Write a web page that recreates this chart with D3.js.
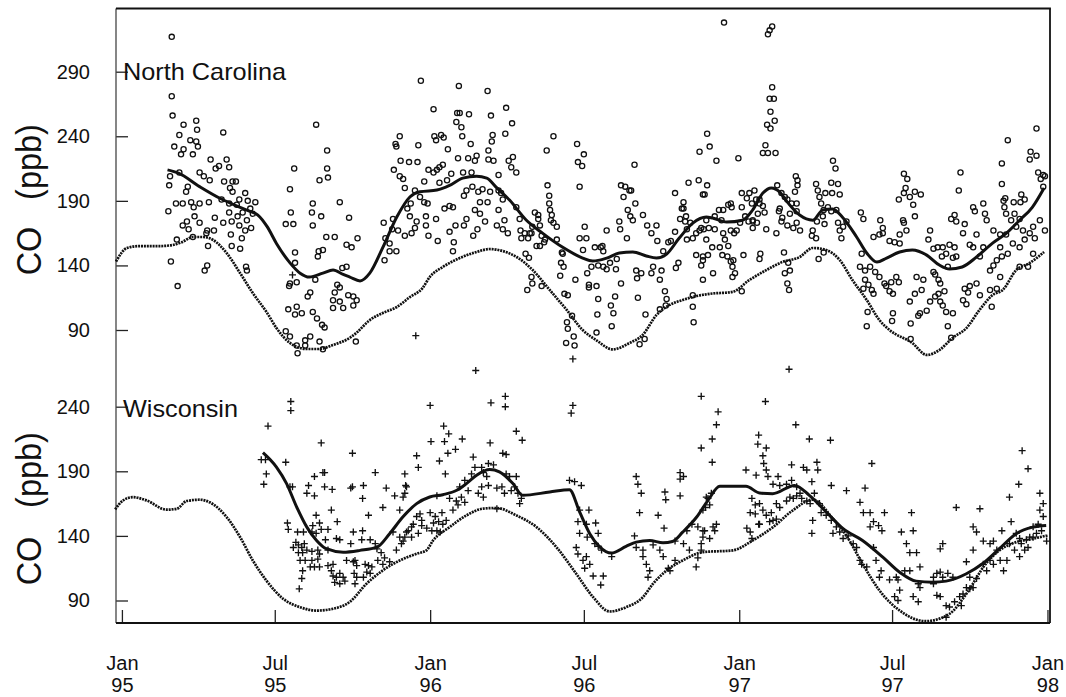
<!DOCTYPE html>
<html><head><meta charset="utf-8">
<script src="https://cdn.jsdelivr.net/npm/d3@7"></script>
<style>
body{margin:0;background:#fff;}
svg{display:block;font-family:"Liberation Sans",Arial,Helvetica,sans-serif;}
</style></head><body>
<svg id="chart" width="1066" height="697"></svg>
<script>
// Time is counted in days since 1 Jan 1995; concentrations are CO in ppb.
const ncTicks = [90, 140, 190, 240, 290];
const wiTicks = [90, 140, 190, 240];
const panelNames = ["North Carolina", "Wisconsin"];

// North Carolina daily observations [day, ppb]
const ncObs = [
[59,317],[59,271],[60,256],[73,249],[88,252],[68,241],[89,245],[81,237],[88,236],[90,232],[62,232],[73,230],[70,226],[84,226],[120,243],[105,222],[124,222],[115,217],[111,215],[127,216],[57,209],[56,202],[68,212],[92,212],[97,209],[104,206],[78,201],[76,197],[121,205],[131,205],[135,205],[128,200],[131,197],[146,196],[139,191],[55,182],[64,188],[72,188],[82,189],[92,188],[85,185],[103,189],[118,191],[127,188],[136,187],[149,190],[158,189],[152,184],[155,180],[143,181],[127,181],[137,178],[148,175],[153,169],[139,171],[146,167],[130,174],[120,173],[110,177],[109,167],[101,167],[92,173],[86,178],[77,174],[72,171],[79,168],[84,162],[65,160],[100,165],[129,164],[142,161],[140,153],[130,155],[102,155],[58,143],[101,140],[98,136],[147,139],[148,136],[66,124],
[230,249],[243,229],[204,215],[243,215],[234,206],[244,208],[199,199],[226,188],[258,189],[200,181],[225,181],[236,178],[194,172],[203,172],[226,171],[269,177],[242,162],[252,162],[233,151],[238,152],[205,150],[266,156],[272,154],[279,161],[205,142],[232,147],[261,138],[266,139],[199,126],[207,127],[198,124],[229,129],[223,119],[220,116],[255,125],[258,123],[252,119],[268,117],[274,116],[278,113],[197,106],[207,108],[213,103],[205,102],[226,104],[231,99],[250,113],[258,112],[250,107],[262,107],[274,109],[237,94],[240,92],[194,89],[199,85],[207,78],[208,72],[217,82],[223,85],[217,78],[234,81],[238,75],[277,81],
[354,283],[399,279],[433,275],[369,261],[397,258],[400,258],[411,257],[396,251],[402,247],[455,262],[437,256],[462,250],[329,240],[324,234],[325,232],[351,233],[370,240],[378,241],[381,239],[372,237],[403,240],[413,234],[439,241],[438,236],[454,242],[386,230],[434,229],[511,240],[503,229],[539,234],[547,226],[607,218],[693,242],[696,232],[684,228],[330,221],[340,220],[350,220],[322,214],[329,209],[333,207],[335,200],[363,214],[369,212],[376,216],[380,218],[373,214],[358,205],[376,204],[385,206],[390,211],[398,223],[410,223],[420,225],[418,221],[440,221],[434,222],[404,212],[414,212],[463,224],[467,212],[458,221],[461,216],[446,210],[504,202],[506,194],[542,201],[540,220],[545,217],[591,202],[596,201],[601,198],[655,196],[671,204],[683,206],[688,195],[693,202],[690,195],[665,189],[665,184],[661,176],[667,174],[673,173],
[347,198],[353,193],[358,189],[362,188],[342,188],[338,184],[341,178],[349,174],[347,169],[343,165],[335,163],[310,173],[312,161],[321,176],[320,168],[327,167],[317,157],[317,151],[311,144],[325,151],[360,178],[372,176],[360,171],[363,163],[374,159],[382,184],[388,186],[392,185],[395,171],[388,166],[393,158],[392,151],[405,171],[408,176],[418,183],[424,180],[430,174],[421,168],[416,163],[408,198],[405,194],[415,201],[422,197],[427,199],[433,189],[424,189],[436,197],[446,198],[449,196],[451,191],[446,183],[444,171],[453,175],[451,168],[457,165],[467,185],[471,176],[472,167],[477,165],[473,161],[486,170],[483,165],[481,161],[489,181],[493,179],[493,176],[495,171],[485,165],[491,155],[497,163],[501,160],[495,155],[500,158],[506,188],[507,183],[509,179],[508,175],[511,173],[515,170],
[478,149],[482,146],[485,131],[486,126],[480,121],[497,124],[515,160],[521,150],[522,149],[520,142],[519,132],[523,139],[524,118],[528,117],[533,101],[527,96],[528,91],[537,129],[542,161],[546,152],[550,161],[548,170],[553,125],[562,124],[553,123],[551,134],[556,139],[564,140],[570,139],[574,137],[567,154],[570,151],[560,154],[578,142],[585,137],[586,145],[574,167],[569,155],[564,114],[563,102],[579,109],[582,103],[584,116],[580,93],[591,126],[611,115],[620,102],[589,174],[590,168],[598,161],[599,183],[602,178],[605,175],[608,188],[594,193],[603,198],[617,179],[622,171],[627,165],[633,171],[634,159],[641,151],[647,158],[650,159],[609,136],[610,130],[615,134],[627,134],[629,139],[639,136],[637,129],[643,120],[645,114],[637,106],[644,109],[655,166],[663,184],[669,168],[669,160],[676,161],[680,165],[684,167],[689,168],[692,160],[686,140],[680,148],[694,148],[688,144],[676,117],[676,108],[677,96],[656,138],[659,142],[668,178],
[526,80],[535,85],[536,78],[562,88],[613,79],[619,83],[934,83],[982,84],
[713,328],[765,319],[767,322],[770,325],[770,278],[767,269],[772,269],[768,259],[764,249],[773,252],[768,246],[762,233],[759,227],[765,227],[774,227],[704,221],[730,223],[842,221],[845,215],[1083,246],[1049,237],[1042,219],[1076,228],[1083,225],[1075,222],[1085,212],[1091,210],[1088,207],[1093,209],[1091,201],[1042,203],[1046,192],[1044,190],[1056,189],[1065,195],[1069,191],[1064,189],[993,212],[991,198],[926,211],[930,207],[928,200],[926,196],[920,191],[933,193],[939,197],[946,195],[937,187],[939,178],[925,175],[926,173],[929,167],[921,164],[875,181],[878,176],[898,175],[901,169],[901,165],[897,164],[890,162],[909,159],[915,158],[921,157],
[822,203],[824,198],[826,193],[833,196],[840,204],[848,203],[841,196],[850,195],[828,188],[831,183],[836,185],[840,182],[846,183],[830,178],[823,174],[832,172],[848,173],[850,167],[852,161],[858,174],[854,170],[818,167],[817,163],[822,161],[825,145],[831,150],[776,202],[781,196],[785,193],[779,184],[778,182],[782,177],[781,174],[788,171],[795,169],[791,180],[799,182],[803,167],[799,173],[797,197],[799,188],[800,202],[798,209],[800,206],[788,191],[793,188],[784,150],[789,142],[791,136],[785,134],[788,126],[790,121],[775,165],[763,168],
[749,198],[743,196],[746,188],[755,191],[759,186],[753,180],[747,175],[747,169],[752,173],[761,181],[751,191],[755,188],[734,196],[740,192],[734,185],[738,178],[747,174],[742,174],[732,173],[728,167],[725,165],[718,187],[721,188],[722,185],[712,183],[702,178],[707,183],[710,175],[702,168],[712,165],[721,167],[714,160],[699,154],[708,154],[718,155],[717,147],[724,144],[736,148],[721,143],[723,139],[726,134],[723,131],[711,148],[700,134],[688,129],[688,147],[692,175],[686,169],[695,169],[734,120],[755,145],[756,149],
[876,149],[874,139],[880,136],[886,139],[892,135],[880,129],[884,125],[878,122],[888,121],[890,118],[897,131],[903,126],[905,124],[909,120],[913,118],[911,127],[917,131],[920,127],[883,104],[882,93],[913,103],[912,97],[934,95],[933,112],[945,103],[943,101],[953,105],[957,112],[963,116],[967,118],[969,112],[972,109],[976,104],[984,103],[978,93],[996,113],[1000,110],[1002,119],[998,122],[1004,124],[1012,126],[1016,117],[1028,121],[1030,108],[1036,122],[1040,131],[1028,136],[1032,140],[1036,144],[1042,147],[941,131],[949,129],[947,121],[939,118],[961,135],[963,133],[967,129],[969,126],[974,120],
[957,167],[955,160],[961,153],[966,154],[972,154],[980,156],[986,154],[988,147],[984,146],[978,139],[971,147],[976,149],[982,176],[986,179],[988,174],[998,172],[996,165],[1004,156],[1012,164],[1008,154],[1016,147],[1020,154],[1008,185],[1010,182],[1020,188],[1022,180],[1024,175],[1032,167],[1040,164],[1045,185],[1047,180],[1053,175],[1057,180],[1059,170],[1063,176],[1067,167],[1075,165],[1079,170],[1087,175],[1093,167],[1081,161],[1069,160],[1063,154],[1055,157],[1047,164],[1040,154],[1049,149],[1073,139],[1079,149],[1063,139]
];

// Wisconsin daily observations [day, ppb]
const wiObs = [
[200,244],[200,237],[173,225],[236,212],[194,197],[170,199],[165,199],[171,188],[168,180],[228,186],[238,189],[240,189],[199,178],[202,178],[221,179],[228,171],[219,173],[240,178],[249,176],[271,177],[248,160],[230,156],[234,150],[244,145],[255,151],[236,145],[226,148],[196,150],[197,145],[208,143],[215,143],[225,143],[230,142],[241,137],[254,138],[258,137],[274,143],[206,135],[209,133],[213,131],[216,134],[219,129],[225,128],[232,129],[234,126],[244,129],[203,131],[209,127],[214,127],[217,121],[211,121],[225,121],[232,122],[223,116],[228,116],[234,116],[244,117],[248,113],[250,118],[266,121],[274,120],[278,117],[214,113],[213,107],[210,99],[250,109],[254,108],[258,111],[262,108],[252,104],[258,103],[264,105],[275,111],[278,108],[271,134],[273,204],
[273,178],[286,179],[285,169],[300,189],[313,177],[309,162],[323,171],[335,188],[336,179],[335,173],[329,160],[292,156],[285,144],[294,137],[300,134],[284,137],[302,130],[307,127],[311,123],[303,121],[309,118],[317,120],[325,129],[321,143],[329,139],[331,134],[335,139],[339,144],[343,147],[276,121],[288,118],[290,112],[294,111],[286,108],[276,103],[292,117],[296,116],[345,149],[349,155],[353,157],[355,148],[351,142],[349,202],[351,193],
[365,241],[366,213],[376,198],[381,225],[382,213],[387,219],[386,204],[395,207],[403,215],[383,188],[419,268],[437,243],[454,248],[454,240],[436,212],[451,204],[455,203],[467,221],[474,214],[416,201],[418,193],[426,193],[434,196],[440,195],[414,188],[406,183],[400,178],[410,175],[428,189],[432,186],[426,178],[434,179],[422,173],[428,170],[444,177],[450,178],[453,173],[461,175],[465,178],[455,188],[459,186],[467,186],[469,173],[471,165],[473,169],[444,161],[392,160],[396,167],[402,170],[388,169],[398,164],[406,166],[373,171],[379,158],[371,155],[375,151],[369,150],[380,149],[384,152],[365,158],[367,144],[361,146],[373,144],[377,143],[333,170],[337,178],[355,152],[343,139],[337,143],[333,136],
[530,183],[536,182],[544,179],[534,241],[532,235],[534,277],[542,160],[553,160],[540,151],[550,149],[561,150],[542,142],[551,139],[564,142],[560,134],[564,132],[568,129],[538,131],[540,126],[550,124],[546,121],[554,118],[548,115],[558,109],[570,109],[567,102],[580,124],[609,186],[611,180],[615,173],[613,158],[607,140],[617,124],[621,118],[625,113],[623,108],[617,129],[609,131],[635,156],[642,146],[643,174],[644,168],[661,189],[661,184],[665,186],[661,171],[686,248],[686,208],[692,170],[629,133],[637,129],[641,124],[647,115],[649,113],[655,121],[655,136],[665,134],[669,144],[675,149],[682,147],[688,144],[686,134],[682,123],[680,116],[672,129],[688,139],[694,169],[691,162],
[790,269],[762,244],[798,226],[706,236],[704,226],[699,215],[699,197],[814,215],[839,214],[754,218],[753,211],[763,208],[759,202],[760,196],[763,191],[739,191],[751,187],[765,186],[777,186],[771,180],[779,179],[787,180],[793,195],[807,193],[811,191],[823,197],[824,191],[817,182],[793,183],[799,178],[803,173],[795,169],[746,169],[750,164],[755,165],[759,160],[763,156],[769,158],[775,165],[779,162],[787,167],[791,170],[799,171],[805,169],[811,167],[815,165],[744,158],[750,157],[754,149],[755,149],[744,143],[740,146],[746,138],[767,151],[771,152],[775,153],[698,173],[696,164],[688,160],[690,144],[696,138],[700,147],[702,144],[704,149],[686,129],
[840,179],[858,175],[874,166],[880,177],[878,158],[886,158],[890,151],[900,144],[896,148],[886,147],[820,173],[826,165],[828,158],[834,156],[840,152],[846,147],[842,142],[850,143],[854,138],[860,140],[866,134],[870,131],[874,121],[876,118],[882,116],[890,131],[818,152],[817,142],[888,196],[903,158],[935,158],[923,143],[937,144],[929,134],[933,127],[941,127],[945,116],[927,113],[933,113],[943,103],[945,100],[937,93],[943,89],[917,108],[919,106],[909,106],[899,113],[897,108],[893,121],[915,93],[919,90],[921,98],
[961,108],[965,111],[969,112],[972,108],[978,111],[984,108],[961,103],[965,94],[969,93],[976,86],[980,85],[986,89],[992,93],[994,86],[996,95],[1000,100],[1004,99],[1008,100],[1012,107],[1004,108],[1000,120],[1008,129],[972,134],[969,130],[976,77],[988,162],[1016,161],[1008,147],[1012,143],[1020,136],[1032,136],[1028,121],[1020,118],[1024,113],[1032,118],[1040,121],[1044,113],[1048,121],[1042,144],[1053,151],[1059,142],[1065,134],[1069,129],[1073,131],[1075,139],[1079,147],[1085,149],[1089,144],[1095,136],[1091,155],[1087,160],[1091,165],[1051,170],[1062,180],[1066,206],[1073,192],[1087,173],[1028,134],[1036,129],[1051,134],[1057,129],[1063,124],[1063,138],[1071,137],[1079,139],[1083,142],
[202,342],[348,295]
];

// Smoothed observations (solid) and modelled CO (dotted), [day, ppb]
const ncTrend = [[54,214],[67,211.5],[92,201],[116,192],[131,187.5],[151,182],[161,179],[172,170],[183,157],[199,142],[211,134],[222,131],[238,134],[250,136.5],[262,133],[270,131],[282,128],[293.5,134],[309,154],[325.5,177.5],[341,193],[353,197],[373,198.4],[388,202],[403.6,207.6],[420,209],[432,207.6],[444,200],[459,190.6],[479,175],[498,165],[522,154],[545.6,145.7],[557.5,143.4],[574,145.7],[589,149.6],[605,150.4],[621,147.3],[633,145.7],[645,148.8],[660,161.2],[676,172.8],[692,177.5],[699.5,176.7],[716,173.6],[735,175],[747,183],[759,196],[769,200],[779,196.8],[788,189],[802.5,179],[818,175],[830,183],[841.5,183.7],[853,177.5],[870,162],[882,149.6],[894,142.6],[905.5,145.7],[921,150.4],[936,152],[953,148],[968,140.3],[980,137.2],[995,138.8],[1012,146.5],[1031,157.3],[1047.5,165],[1063,175],[1078,185],[1092,200]];
const ncModel = [[-7,143],[6,153.5],[21,155],[45,155],[60,155.8],[71,158],[84,162],[96,162],[108,159.7],[124,149.6],[140,134],[155,118.6],[172,103.2],[183,91.5],[199,80],[219,75.3],[234,75.3],[250,78.4],[270,84],[278,88],[293.5,97.7],[309,103.2],[325.5,107.8],[341,115.5],[356,122.5],[364.5,131],[380,138.8],[400,145.7],[420,150.4],[435.6,152.7],[451,151.1],[467.5,146.5],[486.5,136.4],[506.6,121],[526.7,105.5],[545.6,90],[562,82],[581,75],[601,79.9],[616.6,86.1],[633,101.6],[648.6,109.4],[664,113.2],[680.6,116.3],[696,118],[723,119.5],[743,128.7],[763,136.4],[782,142.6],[802.5,146.5],[818,153.5],[834,151.9],[850,144.2],[865,128.7],[882,113.2],[897,97.7],[909,90],[936,79.9],[953,70.7],[968,74.5],[983.6,83.8],[1000,91.5],[1015.5,105.5],[1031,117.1],[1043,121],[1059,136.4],[1075,141.9],[1092,150.4]];
const wiTrend = [[167,204.5],[183,193.3],[195,180.5],[207,162.3],[219,146.8],[230.5,136.5],[242,130.1],[262,127.4],[282,128.8],[302,131.3],[317,141.7],[332.6,154.6],[349,165],[364.5,170.1],[380,171.9],[396.5,175.3],[408,180.5],[420,186.9],[435.6,191.3],[447,189.5],[463,180.5],[474.6,171.4],[506.6,174],[530,175.8],[542,158.5],[554,141.7],[566,131.3],[579.6,126.7],[597,131.9],[609,135.2],[625,136.5],[640.7,134.7],[652,135.7],[664,142.9],[680.6,154.6],[694,167.5],[708,178.4],[739,178.4],[755,173.2],[770.5,172.7],[796.5,179.1],[814,171.4],[834,158.5],[854,145.6],[877,136.5],[901,123.6],[921,111.9],[940.6,105],[960,104.2],[976,105],[1000,110.7],[1019,118.4],[1039,130.1],[1059,141.7],[1078.6,146.8],[1094.5,148.1]];
const wiModel = [[-8,160.5],[1.5,167.5],[13,170],[29,167.5],[53,160.3],[65,161],[76.6,167],[92,168],[104,166],[124,154.6],[140,139],[155,121],[171,105.5],[191,91.3],[211,84.8],[230.5,82.2],[250,83.6],[270,89],[289.6,103],[309,113.3],[329,121],[349,126.2],[360.6,128.8],[368.5,136.5],[388,146.8],[408,155.9],[427.6,161.1],[443.5,161.6],[467,155.9],[491,146.8],[514.5,131.3],[538,110.7],[558,92.6],[577.6,81.5],[597,84.8],[617,92.6],[629,103],[645,113.3],[664,121],[688,127.4],[723.5,128.8],[747,136.5],[771,146.8],[794.5,159.8],[818,168],[842,153.3],[857.7,140.4],[877,118.4],[897,97.8],[921,82.2],[952,74],[980,79.7],[1000,95.2],[1023,118.4],[1039,128.8],[1059,135.2],[1078.6,137.8],[1096,140.4]];

// ---- layout ----
const svg = d3.select("#chart");
const frameL = 116, frameR = 1050, frameT = 8.5, frameB = 623;
const BASE = Date.UTC(1995, 0, 1);
const dateOf = d => new Date(BASE + d * 864e5);

const x = d3.scaleUtc().domain([dateOf(-7), dateOf(1099)]).range([frameL, frameR]);
const yNC = d3.scaleLinear().domain([90, 290]).range([330, 71.7]);
const yWI = d3.scaleLinear().domain([90, 240]).range([600.5, 406.7]);

const ink = "#111";

// y axes (ticks point into the plot)
function yAxis(scale, ticks) {
  const g = svg.append("g").attr("transform", `translate(${frameL},0)`)
    .call(d3.axisLeft(scale).tickValues(ticks).tickSize(-12).tickPadding(26));
  g.select(".domain").remove();
  g.selectAll(".tick line").attr("stroke", "#222").attr("stroke-width", 1.3);
  g.selectAll(".tick text").attr("fill", ink).style("font-size", "20px");
}
yAxis(yNC, ncTicks);
yAxis(yWI, wiTicks);

// x axis with two-line month / year labels
const xTicks = x.ticks(d3.utcMonth.every(6));
const gx = svg.append("g").attr("transform", `translate(0,${frameB})`)
  .call(d3.axisBottom(x).tickValues(xTicks).tickSize(-13).tickPadding(33));
gx.select(".domain").remove();
gx.selectAll(".tick line").attr("stroke", "#222").attr("stroke-width", 1.3);
gx.selectAll(".tick text").attr("fill", ink).style("font-size", "20px")
  .each(function(d) {
    const t = d3.select(this).text(null);
    t.append("tspan").attr("x", 0).text(d3.utcFormat("%b")(d));
    t.append("tspan").attr("x", 0).attr("dy", "1.1em").text(d3.utcFormat("%y")(d));
  });

// frame
svg.append("line").attr("x1", frameL).attr("x2", frameL).attr("y1", frameT).attr("y2", frameB)
  .attr("stroke", "#444").attr("stroke-width", 1.3);
svg.append("line").attr("x1", frameL).attr("x2", frameR).attr("y1", frameB).attr("y2", frameB)
  .attr("stroke", ink).attr("stroke-width", 1.8);
svg.append("line").attr("x1", frameR).attr("x2", frameR).attr("y1", frameT).attr("y2", frameB)
  .attr("stroke", ink).attr("stroke-width", 1.8);
svg.append("line").attr("x1", frameL).attr("x2", frameR + 0.9).attr("y1", frameT).attr("y2", frameT)
  .attr("stroke", ink).attr("stroke-width", 2.2);

// axis titles: "CO" and "(ppb)" set apart, reading upwards
function yTitle(coY, unitY) {
  [["CO", coY], ["(ppb)", unitY]].forEach(([s, cy]) => {
    svg.append("text")
      .attr("transform", `translate(41,${cy}) rotate(-90) scale(1.12,1.22)`)
      .attr("text-anchor", "middle").attr("fill", ink)
      .style("font-size", "29px").text(s);
  });
}
yTitle(251, 162);
yTitle(561, 470);

// panel names
svg.append("text").attr("x", 123).attr("y", 80).attr("fill", ink)
  .style("font-size", "24px").attr("textLength", 163).attr("lengthAdjust", "spacingAndGlyphs")
  .text(panelNames[0]);
svg.append("text").attr("x", 123).attr("y", 417).attr("fill", ink)
  .style("font-size", "24px").attr("textLength", 115).attr("lengthAdjust", "spacingAndGlyphs")
  .text(panelNames[1]);

// observations
svg.append("g").selectAll("circle").data(ncObs).join("circle")
  .attr("cx", d => x(dateOf(d[0]))).attr("cy", d => yNC(d[1])).attr("r", 2.6)
  .attr("fill", "none").attr("stroke", ink).attr("stroke-width", 1.3);

svg.append("g").selectAll("path").data(wiObs).join("path")
  .attr("d", d => { const cx = x(dateOf(d[0])), cy = yWI(d[1]), s = 3.5;
    return `M${cx - s},${cy}H${cx + s}M${cx},${cy - s}V${cy + s}`; })
  .attr("fill", "none").attr("stroke", ink).attr("stroke-width", 1.35);

// curves
function curve(data, scale, dotted) {
  const line = d3.line().x(d => x(dateOf(d[0]))).y(d => scale(d[1])).curve(d3.curveMonotoneX);
  const p = svg.append("path").datum(data).attr("d", line).attr("fill", "none").attr("stroke", ink);
  if (dotted) p.attr("stroke-width", 2.7).attr("stroke-dasharray", "2,0.9");
  else p.attr("stroke-width", 3).attr("stroke-linejoin", "round");
}
curve(ncModel, yNC, true);
curve(ncTrend, yNC, false);
curve(wiModel, yWI, true);
curve(wiTrend, yWI, false);
</script></body></html>
